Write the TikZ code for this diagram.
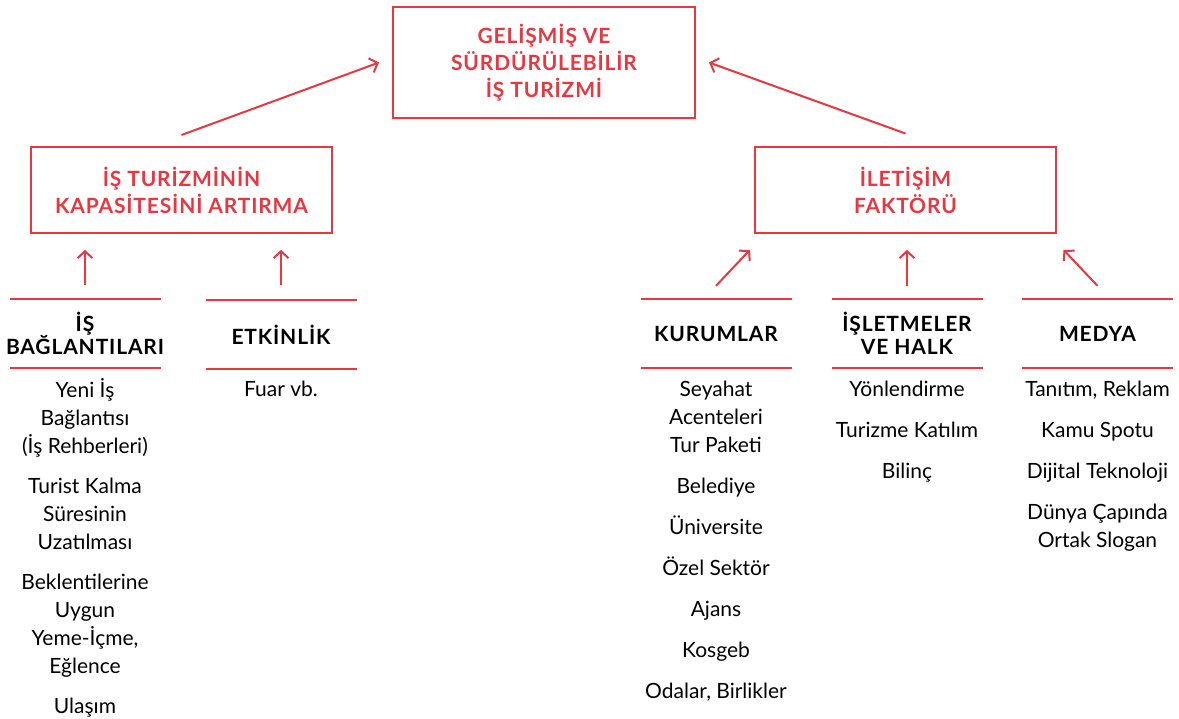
\documentclass[tikz,border=0pt]{standalone}
\usepackage{fontspec}
\setmainfont{Lato}
\newfontfamily\headfont[LetterSpace=4]{Lato}
\usetikzlibrary{arrows.meta}
\definecolor{tred}{RGB}{232,55,64}
\tikzset{
  red-line/.style={draw=tred, line width=2pt},
  title-box/.style={
    red-line,
    align=center,
    inner sep=0pt,
    text=tred,
    font={\fontsize{21}{27}\selectfont\headfont\bfseries}
  },
  col-head/.style={
    minimum width=151pt,
    minimum height=69pt,
    inner sep=0pt,
    align=center,
    font={\fontsize{21}{23}\selectfont\headfont\bfseries}
  },
  col-items/.style={
    anchor=north,
    inner sep=0pt,
    align=center,
    font={\fontsize{21}{28}\selectfont}
  },
  link/.style={red-line, -{Straight Barb[length=7pt,width=15pt]}}
}

\begin{document}
\begin{tikzpicture}[x=1pt, y=-1pt]
  \useasboundingbox (0,0) rectangle (1179,719);
  % Boxes
  \node[title-box, minimum width=302pt, minimum height=111pt] (gelisim) at (544,62.5)
    {GELİŞMİŞ VE\\SÜRDÜRÜLEBİLİR\\İŞ TURİZMİ};
  \node[title-box, minimum width=301pt, minimum height=86pt] (kapasite) at (181.5,190)
    {İŞ TURİZMİNİN\\KAPASİTESİNİ ARTIRMA};
  \node[title-box, minimum width=301pt, minimum height=86pt] (iletisim) at (905.5,190.5)
    {İLETİŞİM\\FAKTÖRÜ};
  % Column heads
  \node[col-head] (isbag) at (85,333.5) {İŞ\\BAĞLANTILARI};
  \node[col-head] (etkinlik) at (281,334.5) {ETKİNLİK};
  \node[col-head] (kurum) at (716,333.5) {KURUMLAR};
  \node[col-head] (isletme) at (907,333.5) {İŞLETMELER\\VE HALK};
  \node[col-head] (medya) at (1097.5,333.5) {MEDYA};
  \foreach \h in {isbag,etkinlik,kurum,isletme,medya} {
    \draw[red-line] ([xshift=-75.5pt]\h.north) -- ([xshift=75.5pt]\h.north);
    \draw[red-line] ([xshift=-75.5pt]\h.south) -- ([xshift=75.5pt]\h.south);
  }
  % Column items
  \node[col-items] (isbag-list) at (85,378)
    {Yeni İş\\Bağlantısı\\(İş Rehberleri)\\[12pt]Turist Kalma\\Süresinin\\Uzatılması\\[12pt]Beklentilerine\\Uygun\\Yeme-İçme,\\Eğlence\\[12pt]Ulaşım};
  \node[col-items] (etkinlik-list) at (281,381) {Fuar vb.};
  \node[col-items] (kurum-list) at (716,381)
    {Seyahat\\Acenteleri\\Tur Paketi\\[13pt]Belediye\\[13pt]Üniversite\\[13pt]Özel Sektör\\[13pt]Ajans\\[13pt]Kosgeb\\[13pt]Odalar, Birlikler};
  \node[col-items] (isletme-list) at (907,381)
    {Yönlendirme\\[13pt]Turizme Katılım\\[13pt]Bilinç};
  \node[col-items] (medya-list) at (1097.5,381)
    {Tanıtım, Reklam\\[13pt]Kamu Spotu\\[13pt]Dijital Teknoloji\\[13pt]Dünya Çapında\\Ortak Slogan};
  % Arrows
  \draw[link] ([yshift=11pt]kapasite.north) -- ([xshift=-13pt]gelisim.west);
  \draw[link] ([yshift=13pt]iletisim.north) -- ([xshift=13pt]gelisim.east);
  \draw[link] ([yshift=14pt]isbag.north) -- ++(0,-35);
  \draw[link] ([yshift=15pt]etkinlik.north) -- ++(0,-35);
  \draw[link] ([yshift=13pt]kurum.north) -- ++(34,-36);
  \draw[link] ([yshift=13pt]isletme.north) -- ++(0,-36);
  \draw[link] ([yshift=13pt]medya.north) -- ++(-34,-36);
\end{tikzpicture}
\end{document}
